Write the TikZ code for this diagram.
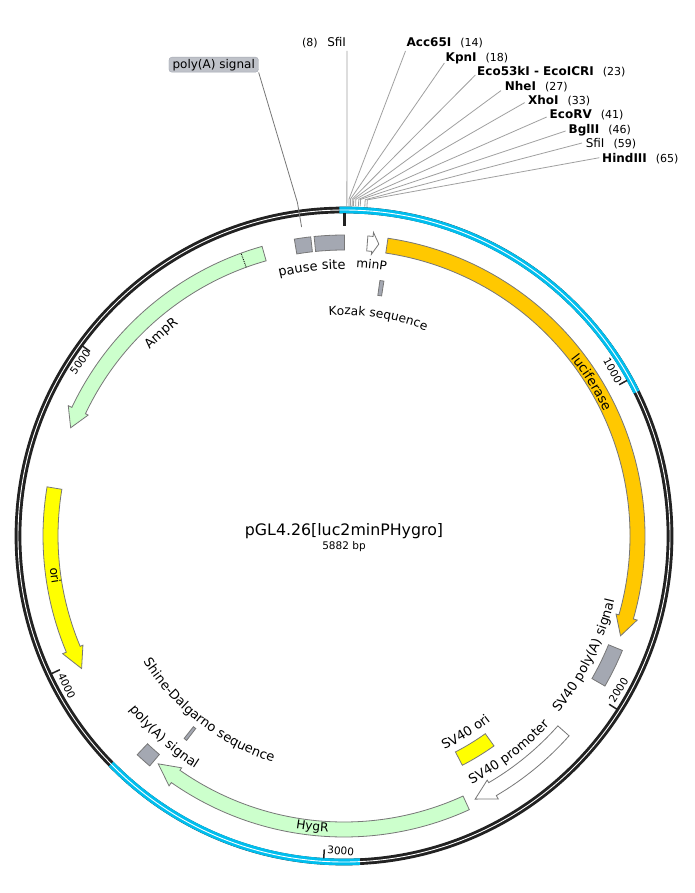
\documentclass[tikz,border=0pt]{standalone}
\usepackage{fontspec}
\setmainfont{DejaVu Sans}
\usetikzlibrary{decorations.text}
\definecolor{ringblack}{HTML}{222222}
\definecolor{ringblue}{HTML}{00BEEE}
\definecolor{fgray}{HTML}{A4A8B2}
\definecolor{fgreen}{HTML}{CCFFCC}
\definecolor{forange}{HTML}{FFC800}
\definecolor{fyellow}{HTML}{FFFF00}
\definecolor{fedge}{HTML}{777777}
\definecolor{stemgray}{HTML}{A0A0A0}
\newcommand\lblfont{\fontsize{13}{15}\selectfont}
\newcommand\bandfont{\fontsize{12.2}{15}\selectfont}
\newcommand\tickfont{\fontsize{10.5}{12}\selectfont}
\newcommand\enzfont{\fontsize{12}{14}\selectfont}
\newcommand\posfont{\fontsize{11}{13}\selectfont}
% band: style, a1, a2, r-in, r-out (angles clockwise from the top)
\newcommand\band[5]{\filldraw[#1] ({90-(#2)}:#5) arc[start angle={90-(#2)},end angle={90-(#3)},radius=#5] -- ({90-(#3)}:#4) arc[start angle={90-(#3)},end angle={90-(#2)},radius=#4] -- cycle;}
% arrow band: style, tail, head base, tip
\newcommand\arrowband[4]{\filldraw[#1,line join=miter] ({90-(#2)}:301) arc[start angle={90-(#2)},end angle={90-(#3)},radius=301] -- ({90-(#3)}:305) -- ({90-(#4)}:294) -- ({90-(#3)}:283) -- ({90-(#3)}:286) arc[start angle={90-(#3)},end angle={90-(#2)},radius=286] -- cycle;}
% text on arcs: font, centre angle, baseline radius, text
\newcommand\toptext[4][\lblfont]{\path[decorate,decoration={text along path,text align=center,text={|#1|#4}}] ({90-(#2)+45}:#3) arc[start angle={90-(#2)+45},end angle={90-(#2)-45},radius=#3];}
\newcommand\bottext[4][\lblfont]{\path[decorate,decoration={text along path,text align=center,text={|#1|#4}}] ({90-(#2)-45}:#3) arc[start angle={90-(#2)-45},end angle={90-(#2)+45},radius=#3];}
\tikzset{
  x=1pt,y=1pt,
  feat/.style={draw=fedge,line width=0.8pt},
  leader/.style={draw=stemgray,line width=0.8pt},
  ticklbl/.style={inner sep=0pt,font=\tickfont},
  site/.style={anchor=base west,inner sep=0pt,font=\enzfont},
  centre/.style={inner sep=0pt}
}
\begin{document}
\begin{tikzpicture}
\useasboundingbox (0,0) rectangle (694,-893);
\fill[white] (0,0) rectangle (694,-893);
\begin{scope}[shift={(344,-536)}]
  % ring
  \draw[ringblack,line width=6.7pt] (0,0) circle[radius=326];
  \draw[ringblue,line width=6.7pt] (90.8:326) arc[start angle=90.8,end angle=26.2,radius=326];
  \draw[ringblue,line width=6.7pt] (-87.2:326) arc[start angle=-87.2,end angle=-135.6,radius=326];
  \draw[white,line width=0.9pt] (0,0) circle[radius=326];
  % ticks
  \draw[ringblack,line width=3pt] (90:323) -- (90:310);
  \foreach \a in {61.2,122.4,183.6,244.8,306}{
    \draw[ringblack,line width=1.5pt] ({90-\a}:323) -- ({90-\a}:314);
  }
  \node[ticklbl,rotate=-61.2] (t1) at ({90-58.4}:315.5) {1000};
  \node[ticklbl,rotate=57.6] (t2) at ({90-119.3}:314.8) {2000};
  \node[ticklbl,rotate=-3.6] (t3) at ({90-180.6}:315) {3000};
  \node[ticklbl,rotate=-64.8] (t4) at ({90-241.6}:315.3) {4000};
  \node[ticklbl,rotate=54] (t5) at ({90-303.4}:316) {5000};
  % restriction site stems
  \foreach \n/\a in {a/0.49,b/0.857,c/1.1,d/1.41,e/1.65,f/2.02,g/2.51,h/2.82,i/3.61,j/3.98}{
    \coordinate (top\n) at ({90-\a}:337);
    \coordinate (foot\n) at ({90-\a}:330);
  }
  % features
  \arrowband{feat,fill=forange}{8.4}{106}{109.85}
  \arrowband{feat,fill=fgreen}{-15.8}{-64.7}{-68.4}
  \arrowband{feat,fill=fyellow}{-80.6}{-112.7}{-116.8}
  \arrowband{feat,fill=fgreen}{155.4}{215}{219.2}
  \arrowband{feat,fill=white}{131.6}{149.6}{153.5}
  \arrowband{feat,fill=white}{4.55}{5.55}{6.8}
  \band{feat,fill=fgray}{112.35}{119.9}{286}{301}
  \band{feat,fill=fgray}{220.2}{223.4}{286}{301}
  \band{feat,fill=fgray}{-9.5}{-6.35}{286}{301}
  \band{feat,fill=fgray}{-5.7}{0.1}{286}{301}
  \band{feat,fill=fyellow}{144.45}{152.7}{243}{258}
  \band{feat,fill=fgray}{217.6}{218.3}{243}{258}
  \band{feat,fill=fgray}{8.0}{8.9}{243}{258}
  \draw[black,densely dotted,line width=0.9pt] ({90+20}:286) -- ({90+20}:301);
  % curved labels
  \toptext[\bandfont]{8.9}{221}{Kozak sequence}
  \toptext{-6.85}{267}{pause site}
  \toptext[\bandfont]{5.8}{269}{minP}
  \toptext{-42.1}{269}{AmpR}
  \toptext{58.2}{288}{luciferase}
  \bottext[\bandfont]{-97.85}{296}{ori}
  \bottext[\bandfont]{186.2}{296}{HygR}
  \bottext{142.7}{279}{SV40 promoter}
  \bottext{116.4}{278}{SV40 poly(A) signal}
  \bottext{148.2}{236}{SV40 ori}
  \bottext{217.7}{237}{Shine-Dalgarno sequence}
  \bottext{221.9}{276}{poly(A) signal}
\end{scope}
% centre title
\node[centre,font=\fontsize{15.8}{18}\selectfont] (title) at (344,-531) {pGL4.26[luc2minPHygro]};
\node[centre,font=\fontsize{10.5}{12}\selectfont] (size) at (344,-547) {5882 bp};
% restriction labels
\node[site] (sa) at (302,-46.5) {{\posfont (8)}\hspace{9.5pt}SfiI};
\node[site] (sb) at (406.5,-46.5) {\textbf{Acc65I}\hspace{9pt}{\posfont (14)}};
\node[site] (sc) at (445.5,-61.5) {\textbf{KpnI}\hspace{9pt}{\posfont (18)}};
\node[site] (sd) at (477,-76) {\textbf{Eco53kI - EcoICRI}\hspace{9pt}{\posfont (23)}};
\node[site] (se) at (504.7,-90.3) {\textbf{NheI}\hspace{9pt}{\posfont (27)}};
\node[site] (sf) at (527.8,-104.5) {\textbf{XhoI}\hspace{9pt}{\posfont (33)}};
\node[site] (sg) at (549.5,-119) {\textbf{EcoRV}\hspace{9pt}{\posfont (41)}};
\node[site] (sh) at (568.4,-133.5) {\textbf{BglII}\hspace{9pt}{\posfont (46)}};
\node[site] (si) at (585.6,-147.8) {SfiI\hspace{9pt}{\posfont (59)}};
\node[site] (sj) at (602,-162.2) {\textbf{HindIII}\hspace{9pt}{\posfont (65)}};
\coordinate (ea) at (347,-51);
\coordinate (eb) at (405.5,-51);
\coordinate (ec) at (444.4,-63);
\coordinate (ed) at (475.4,-75);
\coordinate (ee) at (501,-90.6);
\coordinate (ef) at (524.7,-102.6);
\coordinate (eg) at (546.7,-117);
\coordinate (eh) at (565.6,-131);
\coordinate (ei) at (582,-143);
\coordinate (ej) at (599.4,-157.7);
\foreach \n in {a,...,j}{
  \draw[leader] (e\n) -- (top\n) -- (foot\n);
}
% poly(A) signal callout
\node[draw=fgray,fill=fgray!70,rounded corners=3pt,inner sep=0pt,minimum width=89.5pt,minimum height=15pt,font=\enzfont] (pa) at (213.7,-64.7) {poly(A) signal};
\coordinate (paelbow) at (297.4,-202.5);
\coordinate (paend) at (301.6,-227);
\draw[draw=fedge,line width=0.8pt] (pa.south east) -- (paelbow) -- (paend);
\end{tikzpicture}
\end{document}
